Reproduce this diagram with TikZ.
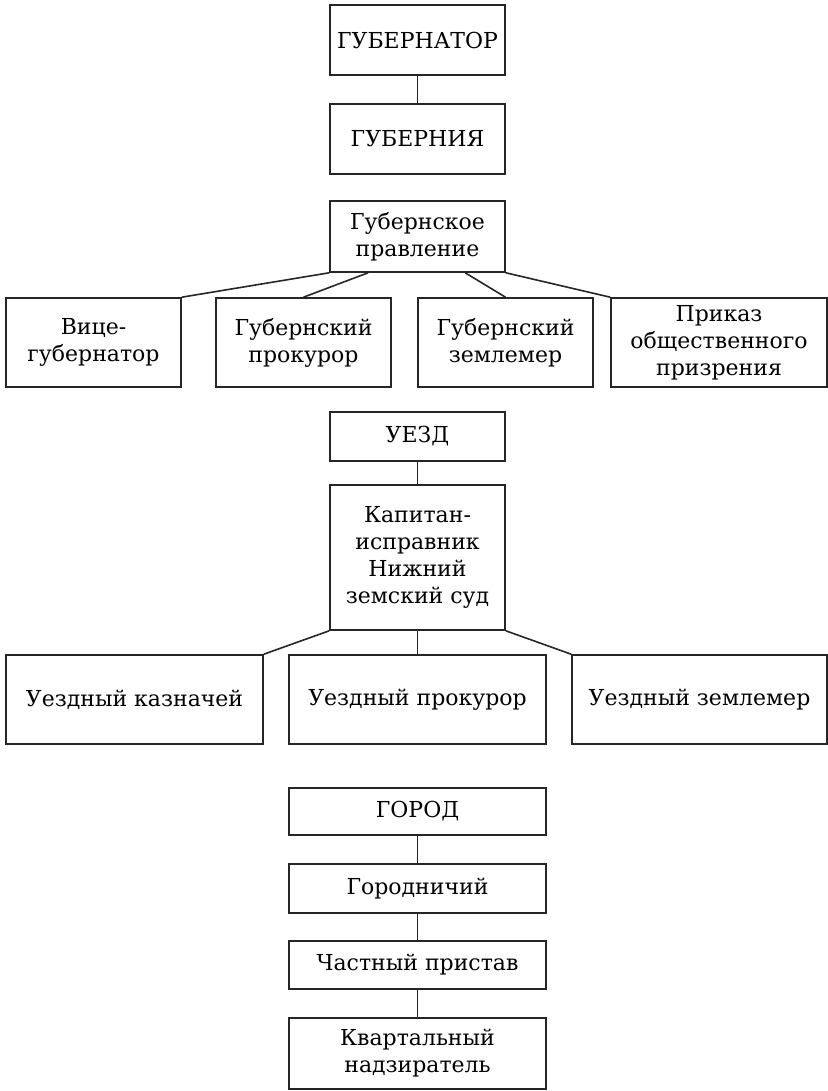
\documentclass[tikz,border=0pt]{standalone}
\usepackage{fontspec}
\setmainfont{DejaVu Serif}
\usetikzlibrary{positioning,calc}

\begin{document}
\begin{tikzpicture}[
  x=0.5pt, y=-0.5pt,
  font=\fontsize{11}{13.5}\selectfont,
  box/.style={draw=black!85, line width=0.8pt, align=center, inner sep=1pt, minimum width=87.5pt},
  wide/.style={box, minimum width=128.5pt},
  edge/.style={draw=black!85, line width=0.8pt}
]
\useasboundingbox (0,0) rectangle (828,1091);

% губерния
\node[box, minimum height=35pt]   (gov)  at (417.5, 40)    {ГУБЕРНАТОР};
\node[box, minimum height=35pt]   (gub)  at (417.5, 139)   {ГУБЕРНИЯ};
\node[box, minimum height=35.5pt] (prav) at (417.5, 236.5) {Губернское\\правление};

\node[box, minimum height=44.5pt] (vice)   at (93.5, 342.5)  {Вице-\\губернатор};
\node[box, minimum height=44.5pt] (gprok)  at (303.5, 342.5) {Губернский\\прокурор};
\node[box, minimum height=44.5pt] (gzem)   at (505.5, 342.5) {Губернский\\землемер};
\node[box, minimum height=44.5pt, minimum width=108pt] (prikaz) at (719, 342.5) {Приказ\\общественного\\призрения};

% уезд
\node[box, minimum height=24.5pt] (uezd) at (417.5, 436.5) {УЕЗД};
\node[box, minimum height=72.5pt] (kap)  at (417.5, 557.5) {Капитан-\\исправник\\Нижний\\земский суд};

\node[wide, minimum height=44.5pt] (ukazn) at (134.5, 699.5) {Уездный казначей};
\node[wide, minimum height=44.5pt] (uprok) at (417.5, 699.5) {Уездный прокурор};
\node[wide, minimum height=44.5pt, minimum width=127.5pt] (uzem) at (699.5, 699.5) {Уездный землемер};

% город
\node[wide, minimum height=23.5pt] (gorod)  at (417.5, 811.5)  {ГОРОД};
\node[wide, minimum height=24.5pt] (gorodn) at (417.5, 888.5)  {Городничий};
\node[wide, minimum height=24pt]   (chast)  at (417.5, 965)    {Частный пристав};
\node[wide, minimum height=35.5pt] (kvart)  at (417.5, 1053.5) {Квартальный\\надзиратель};

\draw[edge] (gov) -- (gub);

\draw[edge] (prav.south west) -- (vice.north east);
\draw[edge] ($(prav.south west)!0.22!(prav.south east)$) -- (gprok.north);
\draw[edge] ($(prav.south west)!0.77!(prav.south east)$) -- (gzem.north);
\draw[edge] (prav.south east) -- (prikaz.north west);

\draw[edge] (uezd) -- (kap);
\draw[edge] (kap.south west) -- (ukazn.north east);
\draw[edge] (kap.south) -- (uprok.north);
\draw[edge] (kap.south east) -- (uzem.north west);

\draw[edge] (gorod) -- (gorodn);
\draw[edge] (gorodn) -- (chast);
\draw[edge] (chast) -- (kvart);
\end{tikzpicture}
\end{document}
